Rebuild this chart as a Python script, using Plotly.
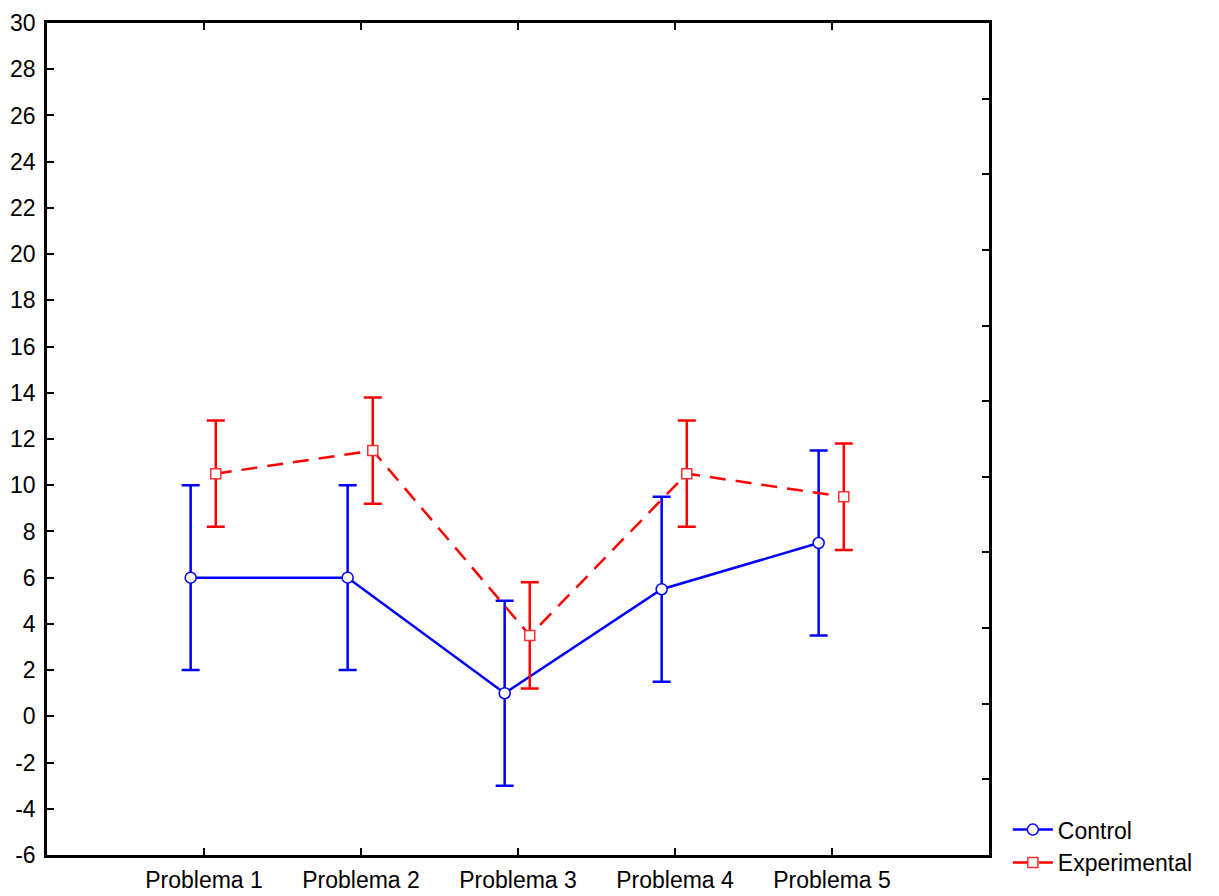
import plotly.graph_objects as go
import numpy as np

categories = ["Problema 1", "Problema 2", "Problema 3", "Problema 4", "Problema 5"]
control_mean = [6.0, 6.0, 1.0, 5.5, 7.5]
control_err = [4.0, 4.0, 4.0, 4.0, 4.0]
exp_mean = [10.5, 11.5, 3.5, 10.5, 9.5]
exp_err = [2.3, 2.3, 2.3, 2.3, 2.3]
y_ticks = [-6, -4, -2, 0, 2, 4, 6, 8, 10, 12, 14, 16, 18, 20, 22, 24, 26, 28, 30]
y_ticktext = [str(v) for v in y_ticks]  # plain hyphen minus

pos = np.arange(1, len(categories) + 1)
CTRL_OFF = -0.085
EXP_OFF = 0.075

FONT = "Liberation Sans, Arial, sans-serif"
FS = 23

fig = go.Figure()
fig.add_trace(go.Scatter(
    x=pos + CTRL_OFF, y=control_mean, name="Control", mode="lines+markers",
    line=dict(color="#0000FF", width=2.5),
    marker=dict(symbol="circle", size=11, color="white", line=dict(color="#0000FF", width=1.5)),
    error_y=dict(type="data", array=control_err, visible=True, color="#0000FF", thickness=2.5, width=9),
))
fig.add_trace(go.Scatter(
    x=pos + EXP_OFF, y=exp_mean, name="Experimental", mode="lines+markers",
    line=dict(color="#FF0000", width=2.5, dash="16px,10px"),
    marker=dict(symbol="square", size=10, color="white", line=dict(color="#FF3030", width=1.5)),
    error_y=dict(type="data", array=exp_err, visible=True, color="#FF0000", thickness=2.5, width=9),
))
# invisible trace to anchor right axis
fig.add_trace(go.Scatter(x=[0], y=[0], yaxis="y2", mode="markers",
                         marker=dict(opacity=0), showlegend=False, hoverinfo="skip"))

fig.update_layout(
    width=1211, height=888,
    margin=dict(l=39, r=230, t=15, b=37),
    paper_bgcolor="white", plot_bgcolor="white",
    font=dict(family=FONT, size=FS, color="black"),
    showlegend=True,
    legend=dict(x=1.02, y=-0.035, xanchor="left", yanchor="bottom",
                font=dict(family=FONT, size=FS, color="black"),
                bgcolor="rgba(0,0,0,0)", tracegroupgap=0, itemwidth=40),
    xaxis=dict(range=[0, 6], tickvals=list(pos), ticktext=categories, automargin=False,
               showgrid=False, zeroline=False, showline=True, linecolor="black", linewidth=2.5,
               ticks="inside", ticklen=7, tickwidth=2, tickcolor="black", mirror="ticks",
               ticklabelstandoff=3, tickfont=dict(family=FONT, size=FS)),
    yaxis=dict(range=[-6, 30], tickvals=y_ticks, ticktext=y_ticktext, automargin=False,
               showgrid=False, zeroline=False, showline=True, linecolor="black", linewidth=2.5,
               ticks="inside", ticklen=7, tickwidth=2, tickcolor="black", mirror=True,
               ticklabelstandoff=4, tickfont=dict(family=FONT, size=FS)),
    yaxis2=dict(overlaying="y", side="right", range=[0, 11], dtick=1, automargin=False,
                showgrid=False, zeroline=False, showline=False,
                ticks="inside", ticklen=7, tickwidth=2, tickcolor="black",
                showticklabels=False),
)

fig.write_html("out.html")
